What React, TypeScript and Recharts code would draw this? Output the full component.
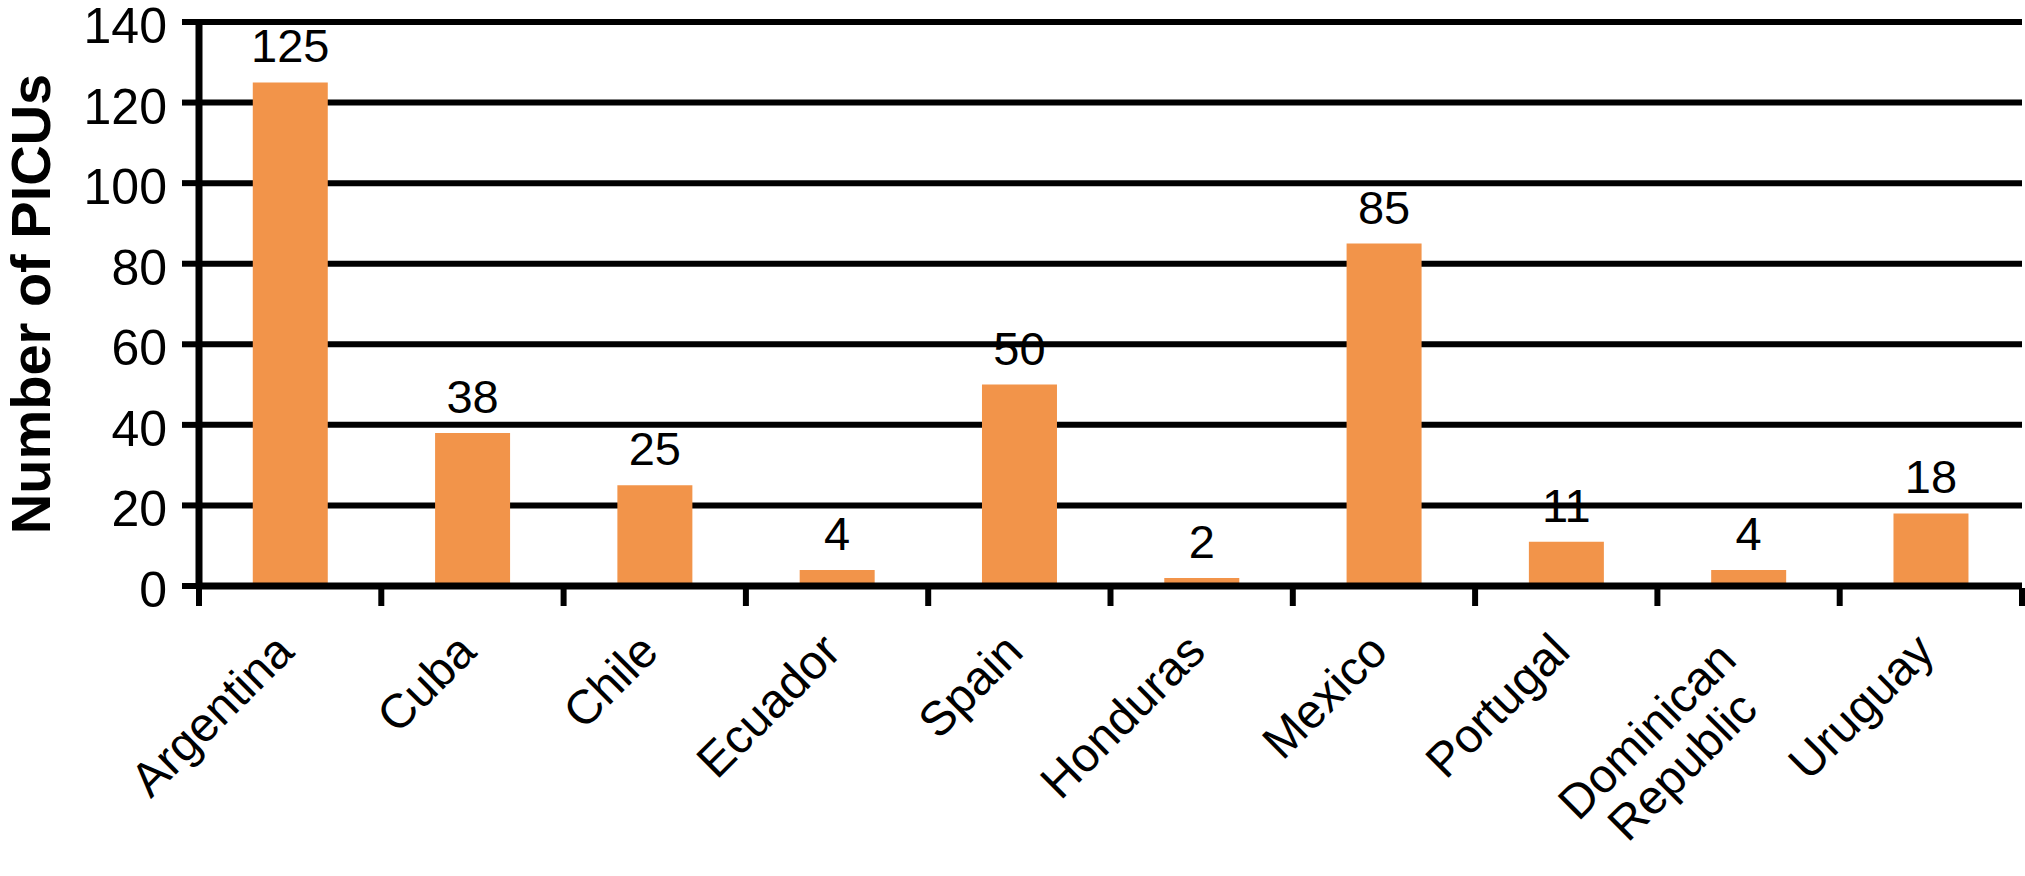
import { BarChart, Bar, XAxis, YAxis, CartesianGrid, LabelList, Label } from "recharts";

const countries = [
  "Argentina",
  "Cuba",
  "Chile",
  "Ecuador",
  "Spain",
  "Honduras",
  "Mexico",
  "Portugal",
  "Dominican\nRepublic",
  "Uruguay",
];
const picus = [125, 38, 25, 4, 50, 2, 85, 11, 4, 18];
const yTicks = [0, 20, 40, 60, 80, 100, 120, 140];

const data = countries.map((country, i) => ({ country, picus: picus[i] }));

const FONT = '"Liberation Sans", Arial, Helvetica, sans-serif';
const LABEL_SIZE = 48;
const LINE_HEIGHT = 50;

let ctx: CanvasRenderingContext2D | null = null;
function textWidth(s: string) {
  if (!ctx) ctx = document.createElement("canvas").getContext("2d");
  if (!ctx) return s.length * LABEL_SIZE * 0.5;
  ctx.font = `${LABEL_SIZE}px ${FONT}`;
  return ctx.measureText(s).width;
}

// category label rotated -45deg, plus tick marks on the band edges
function CountryTick(props: any) {
  const { x, y, payload, index, visibleTicksCount, width } = props;
  const half = payload.offset || width / visibleTicksCount / 2;
  const lines = String(payload.value).split("\n");
  const blockW = Math.max(...lines.map(textWidth));
  const multi = lines.length > 1;
  const ax = x + (multi ? -10 : 6);
  const ay = y + (multi ? 74 : 66);
  return (
    <g>
      <line x1={x - half} y1={y} x2={x - half} y2={y + 18} stroke="#000" strokeWidth={6} />
      {index === visibleTicksCount - 1 && (
        <line x1={x + half} y1={y} x2={x + half} y2={y + 18} stroke="#000" strokeWidth={6} />
      )}
      <text
        transform={`rotate(-45 ${ax} ${ay})`}
        fontSize={LABEL_SIZE}
        fontFamily={FONT}
        fill="#000"
        textAnchor="end"
      >
        {lines.map((line, i) => (
          <tspan key={i} x={ax - (blockW - textWidth(line)) / 2} y={ay + i * LINE_HEIGHT}>
            {line}
          </tspan>
        ))}
      </text>
    </g>
  );
}

function ValueTick(props: any) {
  const { x, y, payload } = props;
  return (
    <text x={x} y={y + 21} textAnchor="end" fontSize={50} fontFamily={FONT} fill="#000">
      {payload.value}
    </text>
  );
}

function AxisTitle(props: any) {
  const { viewBox } = props;
  const cx = viewBox.x + 30;
  const cy = viewBox.y + viewBox.height / 2;
  return (
    <text
      x={cx}
      y={cy}
      transform={`rotate(-90 ${cx} ${cy})`}
      textAnchor="middle"
      dominantBaseline="central"
      fontSize={56}
      fontWeight="bold"
      fontFamily={FONT}
      fill="#000"
    >
      Number of PICUs
    </text>
  );
}

export default function App() {
  return (
    <div style={{ position: "absolute", left: 0, top: 0, background: "#fff" }}>
      <BarChart
        width={2025}
        height={876}
        data={data}
        margin={{ top: 22, right: 3, bottom: 0, left: 0 }}
        barCategoryGap="29.5%"
      >
        <CartesianGrid vertical={false} stroke="#000" strokeWidth={6} />
        <XAxis
          dataKey="country"
          height={290}
          interval={0}
          tickSize={0}
          tickLine={false}
          axisLine={{ stroke: "#000", strokeWidth: 7 }}
          tick={<CountryTick />}
        />
        <YAxis
          width={199}
          domain={[0, 140]}
          ticks={yTicks}
          interval={0}
          tickSize={17}
          tickMargin={15}
          tickLine={{ stroke: "#000", strokeWidth: 6 }}
          axisLine={{ stroke: "#000", strokeWidth: 7 }}
          tick={<ValueTick />}
        >
          <Label content={<AxisTitle />} />
        </YAxis>
        <Bar dataKey="picus" fill="#F2944A" isAnimationActive={false}>
          <LabelList
            dataKey="picus"
            position="top"
            offset={20}
            fill="#000"
            fontSize={47}
            fontFamily={FONT}
          />
        </Bar>
      </BarChart>
    </div>
  );
}
